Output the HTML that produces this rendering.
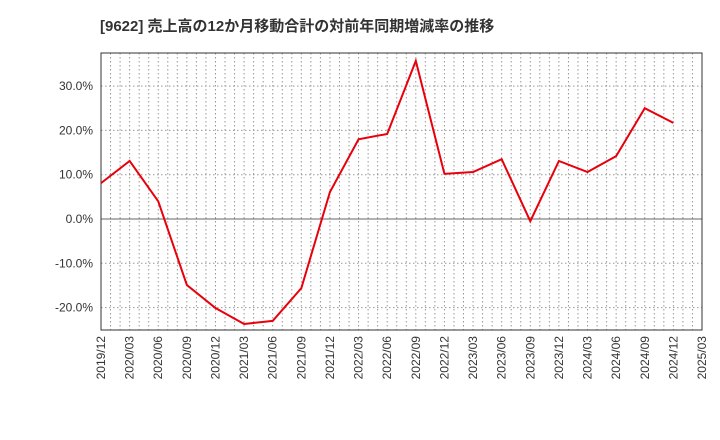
<!DOCTYPE html>
<html><head><meta charset="utf-8"><style>
body{margin:0;background:#fff;}
svg{display:block;font-family:"Liberation Sans","Noto Sans CJK JP",sans-serif;}
</style></head><body>
<svg id="c" width="720" height="440">
<text x="100" y="31" font-size="15" font-weight="bold" fill="#333">[9622]  売上高の12か月移動合計の対前年同期増減率の推移</text>
<g id="grid"></g><g id="axes"></g><g id="series"></g>
</svg>
<script>
const categories=["2019/12","2020/03","2020/06","2020/09","2020/12","2021/03","2021/06","2021/09","2021/12","2022/03","2022/06","2022/09","2022/12","2023/03","2023/06","2023/09","2023/12","2024/03","2024/06","2024/09","2024/12","2025/03"];
const values=[8.1,13.1,4.0,-14.9,-20.1,-23.7,-23.0,-15.6,6.1,18.0,19.2,35.7,10.2,10.6,13.5,-0.5,13.1,10.6,14.2,25.0,21.7];
const yTicks=[-20,-10,0,10,20,30];
const L=101,R=702,T=53,B=330;
const y0=219,pp=4.43;
const X=i=>L+i*(R-L)/(categories.length-1);
const Y=v=>y0-v*pp;
const ns="http://www.w3.org/2000/svg";
function mk(t,a,p){const e=document.createElementNS(ns,t);for(const k in a)e.setAttribute(k,a[k]);p.appendChild(e);return e;}
const g=document.getElementById('grid'),ax=document.getElementById('axes'),s=document.getElementById('series');
for(let m=1;m<(categories.length-1)*3;m++){const x=L+m*(R-L)/((categories.length-1)*3);
const l=mk('line',{x1:x,x2:x,y1:T,y2:B,stroke:'#999','stroke-dasharray':'1.5,2.5','stroke-width':1},g);

}
yTicks.forEach(v=>{const y=Y(v);
const l=mk('line',{x1:L,x2:R,y1:y,y2:y,stroke:v===0?'#666':'#999','stroke-dasharray':v===0?'':'1.5,2.5','stroke-width':1},g);


const t=mk('text',{x:L-8,y:y+4,'font-size':12,'text-anchor':'end',fill:'#333'},ax);t.textContent=v.toFixed(1)+'%';

});
const fr=mk('rect',{x:L,y:T,width:R-L,height:B-T,fill:'none',stroke:'#333','stroke-width':1},ax);


categories.forEach((c,i)=>{const x=X(i);
const t=mk('text',{x:0,y:0,'font-size':12,'text-anchor':'end',fill:'#333',transform:`translate(${x+4},${B+6}) rotate(-90)`},ax);t.textContent=c;

});
const p=mk('polyline',{points:values.map((v,i)=>X(i)+','+Y(v)).join(' '),fill:'none',stroke:'#e8000b','stroke-width':2},s);


</script>
</body></html>
